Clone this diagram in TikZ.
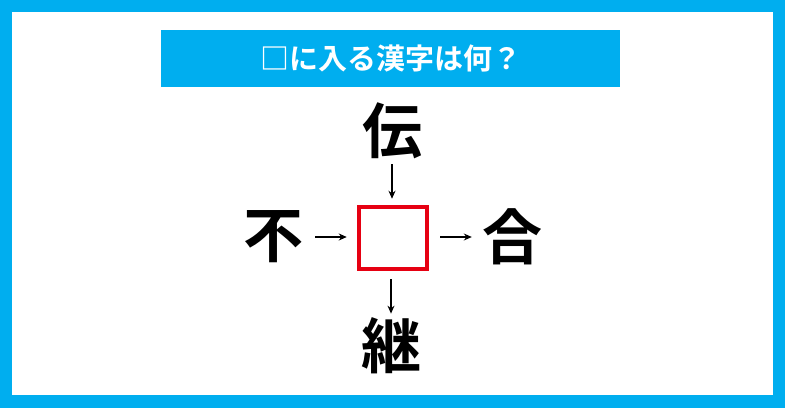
\documentclass[tikz,border=0pt]{standalone}
\usepackage{fontspec}
\newfontfamily\cjk{Noto Sans CJK JP}[BoldFont={Noto Sans CJK JP Bold}]
\usetikzlibrary{arrows.meta}
\definecolor{skyblue}{HTML}{00AEEF}
\definecolor{boxred}{HTML}{E60012}
\tikzset{
	kanji/.style={inner sep=0pt, font=\cjk\bfseries\fontsize{60}{60}\selectfont},
	arr/.style={-{Stealth[length=8pt,width=7pt]}, line width=1.2pt},
}

\begin{document}
\begin{tikzpicture}[x=1pt,y=-1pt]
	\useasboundingbox (0,0) rectangle (785,408);
	\fill [skyblue] (0,0) rectangle (785,408);
	\fill [white] (12,12) rectangle (773,395);

	\node [fill=skyblue, minimum width=459pt, minimum height=57pt, inner sep=0pt,
		text=white, font=\cjk\bfseries\fontsize{29}{29}\selectfont] (title) at (390.5,58.5) {□に入る漢字は何？};

	\node [draw=boxred, line width=4.5pt, minimum width=68pt, minimum height=62pt, inner sep=0pt] (box) at (393,238) {};

	\node [kanji] (den) at (392,131) {伝};
	\node [kanji] (fu) at (273,237) {不};
	\node [kanji] (go) at (512,237) {合};
	\node [kanji] (kei) at (391,346) {継};

	\draw [arr, shorten <=12pt, shorten >=10pt] (fu) -- (fu -| box.west);
	\draw [arr, shorten <=11pt, shorten >=10pt] (box.east |- go) -- (go);
	\draw [arr, shorten <=5pt, shorten >=6pt] (den) -- (den |- box.north);
	\draw [arr, shorten <=8pt, shorten >=4pt] (kei |- box.south) -- (kei);
\end{tikzpicture}
\end{document}
